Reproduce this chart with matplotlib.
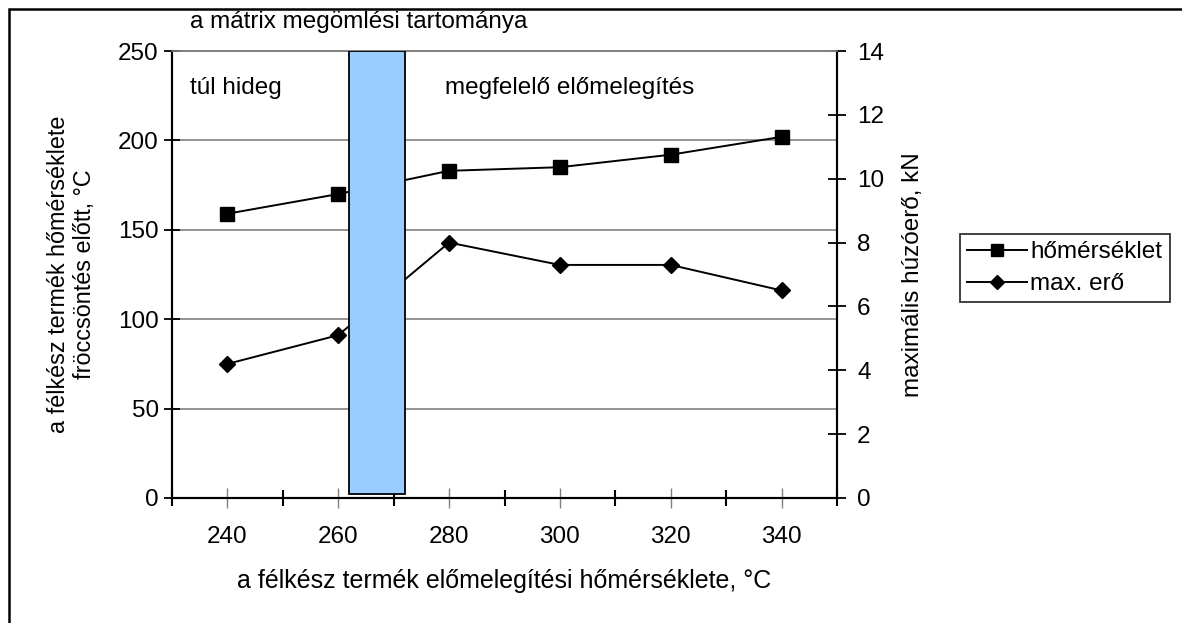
import matplotlib.pyplot as plt
from matplotlib.lines import Line2D
from matplotlib.patches import Rectangle

plt.rcParams['font.family'] = ['Liberation Sans', 'DejaVu Sans']
plt.rcParams['font.size'] = 17.5

# data
temps = [240, 260, 280, 300, 320, 340]
homerseklet = [159, 170, 183, 185, 192, 202]   # left axis, °C
max_ero = [4.2, 5.1, 8.0, 7.3, 7.3, 6.5]       # right axis, kN
melt_lo, melt_hi = 262, 272                    # matrix melting range
cat_edges = [230, 250, 270, 290, 310, 330, 350]

W, H = 1182, 623
fig = plt.figure(figsize=(W / 100, H / 100), dpi=100)
ax = fig.add_axes([172 / W, 1 - 498 / H, 665 / W, 447 / H])
ax2 = ax.twinx()
ax.set_zorder(ax2.get_zorder() + 1)
ax.patch.set_visible(False)

# lines
ax.plot(temps, homerseklet, color='black', lw=1.4, marker='s', ms=9.5, zorder=3)
ax2.plot(temps, max_ero, color='black', lw=1.4, marker='D', ms=8, zorder=3)

# melting range bar, drawn over the lines
ax.bar((melt_lo + melt_hi) / 2, 248, width=melt_hi - melt_lo, bottom=2,
       color='#99CCFF', edgecolor='black', lw=1.3, zorder=4)

# left axis
ax.set_ylim(0, 250)
ax.set_yticks(range(0, 251, 50))
ax.yaxis.grid(True, color='#808080', lw=1.2)
ax.set_axisbelow(True)
ax.tick_params(axis='y', direction='inout', length=11, width=1.3, pad=4)

# right axis
ax2.set_ylim(0, 14)
ax2.set_yticks(range(0, 15, 2))
ax2.tick_params(axis='y', direction='inout', length=13, width=1.3, pad=8)

# x axis: bold ticks at category edges, gray ticks at the labels
ax.set_xlim(230, 350)
ax.set_xticks(cat_edges)
ax.set_xticklabels([])
ax.tick_params(axis='x', which='major', direction='inout', length=11, width=1.5)
ax.set_xticks(temps, minor=True)
ax.set_xticklabels([str(t) for t in temps], minor=True)
ax.tick_params(axis='x', which='minor', direction='inout', length=14, width=1,
               color='#808080', pad=13)

for a in (ax, ax2):
    for s in a.spines.values():
        s.set_linewidth(1.5)
    a.spines['top'].set_color('#808080')
    a.spines['top'].set_linewidth(1.2)

ax.set_xlabel('a félkész termék előmelegítési hőmérséklete, °C', fontsize=18)
ax.xaxis.set_label_coords(0.5, -0.158)
ax.set_ylabel('a félkész termék hőmérséklete\nfröccsöntés előtt, °C', fontsize=16.8)
ax.yaxis.set_label_coords(-0.114, 0.5)
ax2.set_ylabel('maximális húzóerő, kN')
ax2.yaxis.set_label_coords(1.098, 0.5)

# annotations
ax.text(0.027, 1.065, 'a mátrix megömlési tartománya', transform=ax.transAxes,
        va='center', ha='left')
ax.text(0.027, 0.917, 'túl hideg', transform=ax.transAxes, va='center', ha='left')
ax.text(0.41, 0.917, 'megfelelő előmelegítés', transform=ax.transAxes,
        va='center', ha='left')

# legend
handles = [Line2D([], [], color='black', lw=1.4, marker='s', ms=8.5),
           Line2D([], [], color='black', lw=1.4, marker='D', ms=7)]
leg = fig.legend(handles, ['hőmérséklet', 'max. erő'], loc='upper left',
                 bbox_to_anchor=(960 / W, 1 - 234 / H), frameon=True,
                 fancybox=False, edgecolor='black', handlelength=2.45,
                 handletextpad=0.15, borderpad=0.3, labelspacing=0.4,
                 borderaxespad=0)
leg.get_frame().set_linewidth(1.3)

# outer chart border
fig.add_artist(Rectangle((9 / W, -0.5), 2, 1.5 - 9 / H, transform=fig.transFigure,
                         fill=False, lw=1.8, ec='black'))

fig.savefig('out.png', dpi=100)
